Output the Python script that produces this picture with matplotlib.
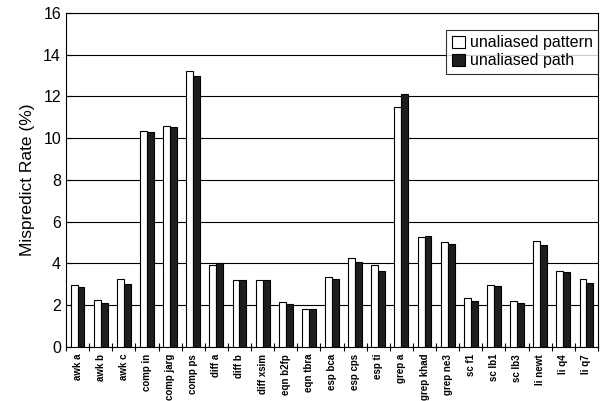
import numpy as np
import matplotlib
matplotlib.use('Agg')
import matplotlib.pyplot as plt

plt.rcParams['font.family'] = ['Liberation Sans', 'DejaVu Sans']

# benchmark names and misprediction rates (%)
benchmarks = ['awk a', 'awk b', 'awk c', 'comp in', 'comp jarg', 'comp ps',
              'diff a', 'diff b', 'diff xsim', 'eqn b2fp', 'eqn tbra',
              'esp bca', 'esp cps', 'esp ti', 'grep a', 'grep khad', 'grep ne3',
              'sc f1', 'sc lb1', 'sc lb3', 'li newt', 'li q4', 'li q7']
pattern = [2.95, 2.25, 3.25, 10.35, 10.6, 13.2, 3.95, 3.2, 3.2, 2.15, 1.8,
           3.35, 4.25, 3.95, 11.5, 5.25, 5.05, 2.35, 2.95, 2.2, 5.1, 3.65, 3.25]
path = [2.85, 2.1, 3.0, 10.3, 10.55, 13.0, 4.0, 3.2, 3.2, 2.05, 1.8,
        3.25, 4.05, 3.65, 12.1, 5.3, 4.95, 2.2, 2.9, 2.1, 4.9, 3.6, 3.05]

fig = plt.figure(figsize=(6.02, 4.01), dpi=100)
ax = fig.add_axes([0.1096, 0.1347, 0.8838, 0.8329])

x = np.arange(len(benchmarks))
w = 0.3
ax.bar(x - w / 2, pattern, w, color='white', edgecolor='black', linewidth=0.8,
       label='unaliased pattern', zorder=3)
ax.bar(x + w / 2, path, w, color='#1e1e1e', edgecolor='black', linewidth=0.8,
       label='unaliased path', zorder=3)

ax.set_xlim(-0.5, len(benchmarks) - 0.5)
ax.set_ylim(0, 16)
ax.set_yticks(range(0, 17, 2))
ax.yaxis.grid(True, color='black', linewidth=0.8, zorder=0)

# group boundaries as ticks, names at the centres
ax.set_xticks(np.arange(len(benchmarks) + 1) - 0.5)
ax.set_xticklabels([])
ax.tick_params(axis='x', which='major', direction='inout', length=6)
ax.set_xticks(x, minor=True)
ax.set_xticklabels(benchmarks, minor=True, rotation=90, fontsize=7,
                   fontweight='bold')
ax.tick_params(axis='x', which='minor', length=0, pad=5)
ax.tick_params(axis='y', labelsize=11.5, direction='in', length=4)

ax.set_ylabel('Mispredict Rate (%)', fontsize=12.5, labelpad=6)

leg = ax.legend(loc='upper right', bbox_to_anchor=(1.0, 0.95), fontsize=11.5,
                frameon=True, fancybox=False, edgecolor='black',
                handlelength=0.8, handleheight=0.8, handletextpad=0.3,
                borderpad=0.35, labelspacing=0.2, borderaxespad=0.0)
leg.get_frame().set_linewidth(0.8)

for s in ax.spines.values():
    s.set_linewidth(0.8)

plt.savefig('out.png', dpi=100)
